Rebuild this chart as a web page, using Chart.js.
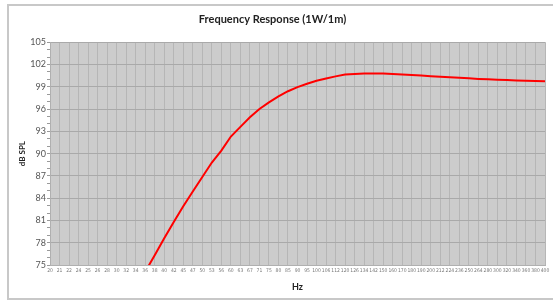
<!DOCTYPE html>
<html>
<head>
<meta charset="utf-8">
<script src="https://cdn.jsdelivr.net/npm/chart.js@4"></script>
<style>
  html, body { margin: 0; padding: 0; background: #ffffff; }
  #wrap { width: 553px; height: 300px; position: relative; }
</style>
</head>
<body>
<div id="wrap"><canvas id="c" width="553" height="300"></canvas></div>
<script>
const chartTitle = "Frequency Response (1W/1m)";
const xTitle = "Hz";
const yTitle = "dB SPL";

const freqLabels = ["20","21","22","24","25","26","28","30","32","34",
  "36","38","40","42","45","47","50","53","56","60",
  "63","67","71","75","80","85","90","95","100","106",
  "112","120","126","134","142","150","160","170","180","190",
  "200","212","224","236","250","264","280","300","320","340",
  "360","380","400"];

const splValues = [null,null,null,null,null,null,null,null,null,null,
  74.1,76.3,78.6,80.8,82.9,84.9,86.85,88.8,90.4,92.3,
  93.6,94.9,96.0,96.9,97.7,98.4,98.95,99.4,99.8,100.1,
  100.4,100.65,100.72,100.78,100.8,100.78,100.72,100.65,100.58,100.5,
  100.42,100.34,100.27,100.2,100.13,100.06,100.0,99.95,99.9,99.85,
  99.81,99.78,99.74];

const yMin = 75, yMax = 105, yMajorStep = 3;

const bgPlugin = {
  id: 'bg',
  beforeDraw(chart) {
    const {ctx, chartArea: a} = chart;
    ctx.save();
    ctx.fillStyle = '#ffffff';
    ctx.fillRect(0, 0, chart.width, chart.height);
    ctx.strokeStyle = '#c8c8c8';
    ctx.lineWidth = 2;
    ctx.strokeRect(8, 5, 560, 294);
    ctx.fillStyle = '#cccccc';
    ctx.fillRect(a.left, a.top, a.right - a.left, a.bottom - a.top);
    ctx.restore();
  }
};

new Chart(document.getElementById('c'), {
  type: 'line',
  data: {
    labels: freqLabels,
    datasets: [{
      data: splValues,
      borderColor: '#ff0000',
      borderWidth: 2,
      pointRadius: 0,
      tension: 0,
      fill: false,
      clip: 0,
      spanGaps: false
    }]
  },
  options: {
    responsive: false,
    animation: false,
    devicePixelRatio: 1,
    layout: { padding: { left: 0, right: 8, top: 0, bottom: 0 } },
    plugins: {
      legend: { display: false },
      tooltip: { enabled: false },
      title: {
        display: true,
        text: chartTitle,
        color: '#222222',
        font: { family: 'Lato', size: 11, weight: 'bold', lineHeight: 1.2 },
        padding: { top: 13, bottom: 16 }
      }
    },
    scales: {
      x: {
        type: 'category',
        offset: false,
        afterFit(s) { s.height = 35; },
        grid: { color: '#b6b6b6', lineWidth: 1, drawTicks: false, offset: false },
        border: { color: '#b0b0b0' },
        ticks: {
          autoSkip: false, maxRotation: 0, minRotation: 0, padding: 3,
          color: '#777777',
          font: { family: "'Liberation Sans Narrow', 'DejaVu Sans Condensed', Lato", size: 5 }
        },
        title: {
          display: true, text: xTitle, color: '#222222',
          font: { family: 'Lato', size: 9, weight: 'bold', lineHeight: 1.2 },
          padding: { top: 0, bottom: 8 }
        }
      },
      y: {
        min: yMin, max: yMax,
        afterFit(s) { s.width = 50; },
        grid: {
          color: (c) => (c.tick && Math.round(c.tick.value) % yMajorStep === 0) ? '#a9a9a9' : 'rgba(0,0,0,0)',
          tickColor: '#9a9a9a',
          tickLength: 3,
          lineWidth: 1
        },
        border: { color: '#b0b0b0' },
        ticks: {
          stepSize: 1,
          autoSkip: false,
          padding: 1,
          color: '#555555',
          font: { family: 'Lato', size: 9 },
          callback: (v) => (Math.round(v) % yMajorStep === 0 ? String(v) : '')
        },
        title: {
          display: true, text: yTitle, color: '#222222',
          font: { family: 'Lato', size: 8, weight: 'bold', lineHeight: 1.2 },
          padding: { top: 18, bottom: 0 }
        }
      }
    }
  },
  plugins: [bgPlugin]
});
</script>
</body>
</html>
